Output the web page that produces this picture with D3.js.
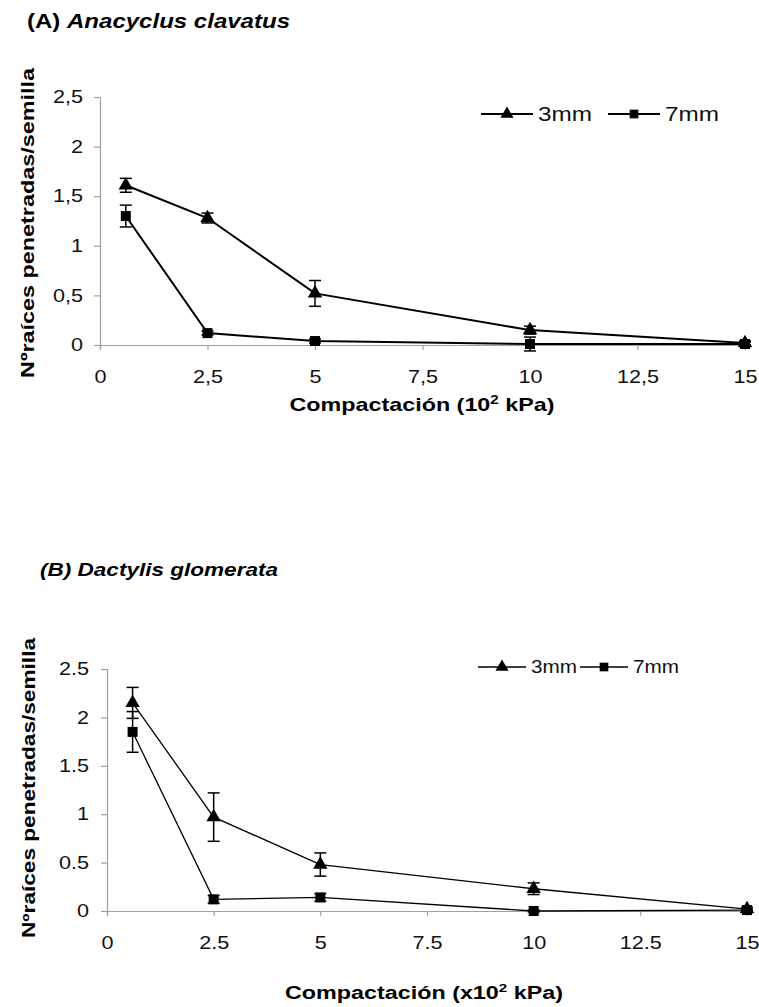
<!DOCTYPE html>
<html>
<head>
<meta charset="utf-8">
<script src="https://cdn.jsdelivr.net/npm/d3@7"></script>
<style>
  body { margin: 0; background: #fff; }
  svg { display: block; font-family: "Liberation Sans", Arial, sans-serif; }
</style>
</head>
<body>
<div id="chart"></div>
<script>
// data
let compaction = [0.6, 2.5, 5, 10, 15];
let xTicks = [0, 2.5, 5, 7.5, 10, 12.5, 15];
let yTicks = [0, 0.5, 1, 1.5, 2, 2.5];

let a3mm = [1.61, 1.28, 0.52, 0.15, 0.02];
let a3mmErr = [0.07, 0.05, 0.13, 0.04, 0.02];
let a7mm = [1.30, 0.12, 0.04, 0.01, 0.01];
let a7mmErr = [0.11, 0.02, 0.02, 0.07, 0.02];

let b3mm = [2.15, 0.97, 0.48, 0.23, 0.02];
let b3mmErr = [0.16, 0.25, 0.12, 0.06, 0.02];
let b7mm = [1.85, 0.12, 0.14, 0.0, 0.01];
let b7mmErr = [0.21, 0.04, 0.04, 0.01, 0.01];

let svg = d3.select("#chart").append("svg")
    .attr("width", 759)
    .attr("height", 1007);

// the scanned figure has wide lettering, so stretch text horizontally
function widen(sel, factor) {
    sel.each(function() {
        let w = this.getComputedTextLength();
        d3.select(this)
            .attr("textLength", w * factor)
            .attr("lengthAdjust", "spacingAndGlyphs");
    });
}

function fitTo(sel, width) {
    sel.attr("textLength", width).attr("lengthAdjust", "spacingAndGlyphs");
}

function drawPanel(p) {
    let x = d3.scaleLinear().domain([0, 15]).range([p.left, p.right]);
    let y = d3.scaleLinear().domain([0, 2.5]).range([p.bottom, p.top]);
    let fmt = v => p.comma ? String(v).replace(".", ",") : String(v);

    let g = svg.append("g");

    // axes
    let xAxis = g.append("g")
        .attr("transform", `translate(0,${p.bottom})`)
        .call(d3.axisBottom(x).tickValues(xTicks).tickSize(5).tickPadding(p.xPad).tickFormat(fmt));
    let yAxis = g.append("g")
        .attr("transform", `translate(${p.left},0)`)
        .call(d3.axisLeft(y).tickValues(yTicks).tickSize(6).tickPadding(p.yPad).tickFormat(fmt));
    [xAxis, yAxis].forEach(a => {
        a.select(".domain").attr("stroke", "#a0a0a0").attr("stroke-width", 1.2);
        a.selectAll(".tick line").attr("stroke", "#a0a0a0").attr("stroke-width", 1.2);
        a.selectAll(".tick text")
            .attr("fill", "#111")
            .style("font-size", p.tickFont + "px")
            .style("font-family", "Liberation Sans, Arial, sans-serif");
        widen(a.selectAll(".tick text"), 1.2);
    });

    let series = [
        { vals: p.s3, err: p.e3, shape: d3.symbolTriangle },
        { vals: p.s7, err: p.e7, shape: d3.symbolSquare }
    ];

    let line = d3.line().x((d, i) => x(compaction[i])).y(d => y(d));

    series.forEach(s => {
        g.append("path")
            .datum(s.vals)
            .attr("d", line)
            .attr("fill", "none")
            .attr("stroke", "#000")
            .attr("stroke-width", p.lw);

        // error bars
        let eb = g.append("g").selectAll("g")
            .data(s.vals)
            .enter().append("g");
        eb.append("line")
            .attr("x1", (d, i) => x(compaction[i])).attr("x2", (d, i) => x(compaction[i]))
            .attr("y1", (d, i) => y(d - s.err[i])).attr("y2", (d, i) => y(d + s.err[i]))
            .attr("stroke", "#000").attr("stroke-width", 1.5);
        [-1, 1].forEach(sign => {
            eb.append("line")
                .attr("x1", (d, i) => x(compaction[i]) - 6).attr("x2", (d, i) => x(compaction[i]) + 6)
                .attr("y1", (d, i) => y(d + sign * s.err[i])).attr("y2", (d, i) => y(d + sign * s.err[i]))
                .attr("stroke", "#000").attr("stroke-width", 1.5);
        });

        g.append("g").selectAll("path")
            .data(s.vals)
            .enter().append("path")
            .attr("d", d3.symbol().type(s.shape).size(s.shape === d3.symbolSquare ? 100 : 90))
            .attr("transform", (d, i) => `translate(${x(compaction[i])},${y(d)})`)
            .attr("fill", "#000");
    });

    // legend
    let lg = g.append("g").attr("transform", `translate(${p.legX},${p.legY})`);
    let items = [["3mm", d3.symbolTriangle], ["7mm", d3.symbolSquare]];
    items.forEach((it, k) => {
        let ox = k * p.legStep;
        lg.append("line").attr("x1", ox).attr("x2", ox + p.legLen)
            .attr("y1", 0).attr("y2", 0)
            .attr("stroke", "#000").attr("stroke-width", p.lw);
        lg.append("path")
            .attr("d", d3.symbol().type(it[1]).size(75))
            .attr("transform", `translate(${ox + p.legLen / 2},0)`)
            .attr("fill", "#000");
        lg.append("text")
            .attr("x", ox + p.legLen + 5).attr("y", p.legFont * 0.36)
            .style("font-size", p.legFont + "px")
            .attr("fill", "#111")
            .text(it[0])
            .call(fitTo, p.legTextW);
    });

    // titles
    let t = g.append("text")
        .attr("x", p.titleX).attr("y", p.titleY)
        .style("font-size", p.titleFont + "px")
        .style("font-weight", "bold");
    t.append("tspan").style("font-style", p.titleItalicAll ? "italic" : "normal").text(p.titleLead);
    t.append("tspan").style("font-style", "italic").text(p.titleSpecies);
    fitTo(t, p.titleW);

    let xl = g.append("text")
        .attr("x", p.xLabelX).attr("y", p.xLabelY)
        .attr("text-anchor", "middle")
        .style("font-size", p.labelFont + "px")
        .style("font-weight", "bold");
    xl.append("tspan").text(p.xLabelPre);
    xl.append("tspan").attr("dy", -7).style("font-size", (p.labelFont * 0.65) + "px").text("2");
    xl.append("tspan").attr("dy", 7).text(" kPa)");
    fitTo(xl, p.xLabelW);

    g.append("text")
        .attr("transform", `translate(${p.yLabelX},${p.yLabelY}) rotate(-90)`)
        .attr("text-anchor", "middle")
        .style("font-size", p.labelFont + "px")
        .style("font-weight", "bold")
        .text("Nºraíces penetradas/semilla")
        .call(fitTo, p.yLabelW);
}

drawPanel({
    left: 100, right: 745, top: 97, bottom: 345, comma: true,
    xPad: 20, yPad: 11, lw: 2, tickFont: 18,
    s3: a3mm, e3: a3mmErr, s7: a7mm, e7: a7mmErr,
    legX: 481, legY: 114, legLen: 52, legStep: 127, legFont: 20, legTextW: 54,
    titleX: 27, titleY: 28, titleFont: 20, titleW: 263,
    titleLead: "(A) ", titleSpecies: "Anacyclus clavatus", titleItalicAll: false,
    labelFont: 19, xLabelX: 422, xLabelY: 411, xLabelW: 265, xLabelPre: "Compactación (10",
    yLabelX: 34, yLabelY: 223, yLabelW: 310
});

drawPanel({
    left: 107, right: 747, top: 669, bottom: 911, comma: false,
    xPad: 20, yPad: 12, lw: 1.3, tickFont: 18,
    s3: b3mm, e3: b3mmErr, s7: b7mm, e7: b7mmErr,
    legX: 478, legY: 667, legLen: 48, legStep: 102, legFont: 18, legTextW: 46,
    titleX: 40, titleY: 576, titleFont: 18, titleW: 238,
    titleLead: "(B) ", titleSpecies: "Dactylis glomerata", titleItalicAll: true,
    labelFont: 18, xLabelX: 424, xLabelY: 999, xLabelW: 278, xLabelPre: "Compactación (x10",
    yLabelX: 35, yLabelY: 788, yLabelW: 300
});
</script>
</body>
</html>
